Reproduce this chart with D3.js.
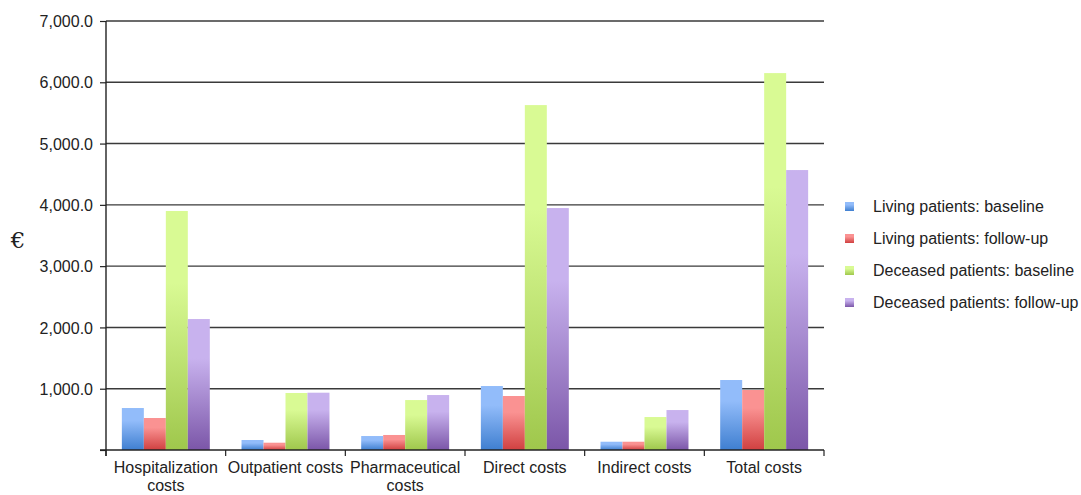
<!DOCTYPE html>
<meta charset="utf-8">
<head>
  <script src="https://cdn.jsdelivr.net/npm/d3@7/dist/d3.min.js"></script>
</head>
<style>
  body { margin: 0; background: #fff; }
  text { font-family: "Liberation Sans", Arial, sans-serif; fill: #222; }
</style>
<body></body>
<script>
  var categories = [["Hospitalization", "costs"], ["Outpatient costs"], ["Pharmaceutical", "costs"],
                    ["Direct costs"], ["Indirect costs"], ["Total costs"]];
  var seriesNames = ["Living patients: baseline", "Living patients: follow-up",
                     "Deceased patients: baseline", "Deceased patients: follow-up"];
  var livingBaseline   = [685, 163, 228, 1044, 135, 1142];
  var livingFollowup   = [522, 119, 245, 881, 135, 979];
  var deceasedBaseline = [3900, 930, 815, 5628, 538, 6150];
  var deceasedFollowup = [2137, 935, 897, 3948, 652, 4568];
  var yTicks = [1000, 2000, 3000, 4000, 5000, 6000, 7000];

  var series = [livingBaseline, livingFollowup, deceasedBaseline, deceasedFollowup];
  var colors = [["#92bcfa", "#3f7fd0"], ["#fa9292", "#d04040"],
                ["#d9fa94", "#9fc74c"], ["#c8b2ee", "#7b56a8"]];

  var width = 1081, height = 495;
  var pLeft = 106, pRight = 824, pTop = 21, pBottom = 450;

  var svg = d3.select("body").append("svg")
      .attr("width", width)
      .attr("height", height);

  var defs = svg.append("defs");
  colors.forEach(function(c, i) {
    var g = defs.append("linearGradient").attr("id", "g" + i)
        .attr("x1", 0).attr("y1", 0).attr("x2", 0).attr("y2", 1);
    g.append("stop").attr("offset", 0).attr("stop-color", c[0]);
    g.append("stop").attr("offset", 0.3).attr("stop-color", c[0]);
    g.append("stop").attr("offset", 1).attr("stop-color", c[1]);
  });

  var x0 = d3.scaleBand().domain(d3.range(categories.length)).range([pLeft, pRight])
      .paddingInner(0.265).paddingOuter(0.1325);
  var x1 = d3.scaleBand().domain(d3.range(series.length)).range([0, x0.bandwidth()]);
  var y = d3.scaleLinear().domain([0, 7000]).range([pBottom, pTop]);

  // gridlines
  svg.append("g").selectAll("line").data(yTicks).enter().append("line")
      .attr("x1", pLeft).attr("x2", pRight)
      .attr("y1", function(d) { return y(d); }).attr("y2", function(d) { return y(d); })
      .attr("stroke", "#3a3a3a").attr("stroke-width", 1.4);

  // bars
  svg.append("g").selectAll("g").data(series).enter().append("g")
      .attr("fill", function(d, i) { return "url(#g" + i + ")"; })
      .each(function(s, si) {
        d3.select(this).selectAll("rect").data(s).enter().append("rect")
          .attr("x", function(d, ci) { return x0(ci) + x1(si); })
          .attr("width", x1.bandwidth())
          .attr("y", function(d) { return y(d); })
          .attr("height", function(d) { return pBottom - y(d); });
      });

  // y axis
  var yAxis = d3.axisLeft(y).tickValues([0].concat(yTicks)).tickSize(6)
      .tickFormat(function(d) { return d === 0 ? "" : d3.format(",.1f")(d); });
  var ya = svg.append("g").attr("transform", "translate(" + pLeft + ",0)").call(yAxis);
  ya.select(".domain").remove();
  ya.selectAll("line").attr("stroke", "#222").attr("stroke-width", 1.2);
  ya.selectAll("text").style("font-size", "16px").attr("x", -13).attr("dy", "0.35em")
      .style("font-family", "'Liberation Sans', Arial, sans-serif").attr("fill", "#222");
  svg.append("line").attr("x1", pLeft).attr("x2", pLeft).attr("y1", pTop).attr("y2", pBottom + 6)
      .attr("stroke", "#222").attr("stroke-width", 1.4);

  // x axis
  svg.append("line").attr("x1", pLeft - 6).attr("x2", pRight).attr("y1", pBottom).attr("y2", pBottom)
      .attr("stroke", "#222").attr("stroke-width", 1.4);
  var step = (pRight - pLeft) / categories.length;
  svg.append("g").selectAll("line").data(d3.range(categories.length + 1)).enter().append("line")
      .attr("x1", function(d) { return pLeft + d * step; }).attr("x2", function(d) { return pLeft + d * step; })
      .attr("y1", pBottom).attr("y2", pBottom + 6)
      .attr("stroke", "#222").attr("stroke-width", 1.2);

  var labels = svg.append("g").selectAll("text").data(categories).enter().append("text")
      .attr("text-anchor", "middle").style("font-size", "16px")
      .attr("x", function(d, i) { return x0(i) + x0.bandwidth() / 2; })
      .attr("y", 473);
  labels.each(function(lines) {
    var t = d3.select(this), cx = t.attr("x");
    lines.forEach(function(l, k) {
      t.append("tspan").attr("x", cx).attr("dy", k === 0 ? 0 : 18).text(l);
    });
  });

  svg.append("text").attr("x", 18).attr("y", 248).attr("text-anchor", "middle")
      .style("font-size", "23px").style("font-family", "'DejaVu Serif', serif").text("€");

  // legend
  var lg = svg.append("g").selectAll("g").data(seriesNames).enter().append("g")
      .attr("transform", function(d, i) { return "translate(845," + (202 + i * 32) + ")"; });
  lg.append("rect").attr("width", 9).attr("height", 9)
      .attr("fill", function(d, i) { return "url(#g" + i + ")"; });
  lg.append("text").attr("x", 28).attr("y", 10).style("font-size", "16px")
      .text(function(d) { return d; });
</script>
